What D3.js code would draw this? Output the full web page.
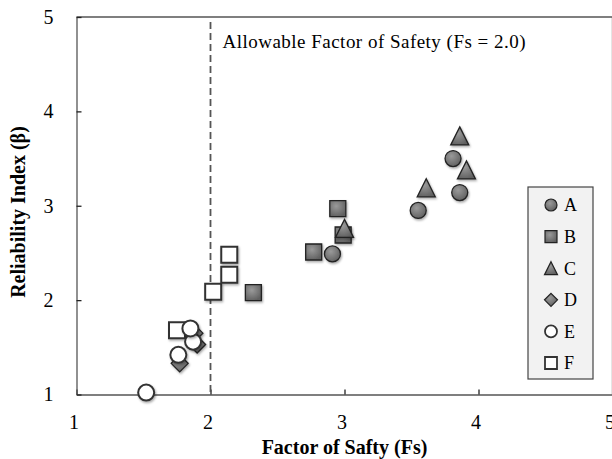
<!DOCTYPE html>
<html>
<head>
<meta charset="utf-8">
<script src="https://cdn.jsdelivr.net/npm/d3@7"></script>
<style>
  body { margin: 0; background: #fff; }
  svg text { font-family: "Liberation Serif", "Times New Roman", serif; fill: #000; }
</style>
</head>
<body>
<div id="chart"></div>
<script>
var seriesNames = ["A", "B", "C", "D", "E", "F"];
var seriesShapes = ["circle", "square", "triangle", "diamond", "circle", "square"];
var seriesFilled = [true, true, true, true, false, false];

// Factor of safety (x) and reliability index (y) per series
var fsA = [2.91, 3.55, 3.81, 3.86];
var betaA = [2.49, 2.95, 3.50, 3.14];
var fsB = [2.77, 2.95, 2.99, 2.32];
var betaB = [2.51, 2.97, 2.69, 2.08];
var fsC = [3.86, 3.91, 3.61, 3.00];
var betaC = [3.74, 3.38, 3.19, 2.76];
var fsD = [1.90, 1.77, 1.88];
var betaD = [1.53, 1.33, 1.65];
var fsE = [1.52, 1.76, 1.87, 1.85];
var betaE = [1.02, 1.42, 1.56, 1.70];
var fsF = [1.75, 2.02, 2.14, 2.14];
var betaF = [1.68, 2.09, 2.27, 2.48];

var xTicks = [1, 2, 3, 4, 5];
var yTicks = [1, 2, 3, 4, 5];
var allowableFs = 2.0;

var fsAll = [fsA, fsB, fsC, fsD, fsE, fsF];
var betaAll = [betaA, betaB, betaC, betaD, betaE, betaF];

var width = 612, height = 459;
var margin = {top: 17, left: 76.5, bottom: 64.5, right: -0.5};

var svg = d3.select("#chart").append("svg")
    .attr("width", width)
    .attr("height", height);

var defs = svg.append("defs");
var grad = defs.append("radialGradient").attr("id", "gfill")
    .attr("cx", "40%").attr("cy", "35%").attr("r", "70%");
grad.append("stop").attr("offset", "0%").attr("stop-color", "#9a9a9a");
grad.append("stop").attr("offset", "100%").attr("stop-color", "#5e5e5e");

var shadow = defs.append("filter").attr("id", "shadow")
    .attr("x", "-50%").attr("y", "-50%").attr("width", "200%").attr("height", "200%");
shadow.append("feDropShadow").attr("dx", 1).attr("dy", 1.5)
    .attr("stdDeviation", 1.2).attr("flood-color", "#000").attr("flood-opacity", 0.35);

var x = d3.scaleLinear().domain([1, 5]).range([margin.left, width - margin.right]);
var y = d3.scaleLinear().domain([1, 5]).range([height - margin.bottom, margin.top]);

var axisColor = "#555";

// frame (top and right border)
svg.append("line")
    .attr("x1", x(1)).attr("x2", x(5))
    .attr("y1", y(5)).attr("y2", y(5))
    .attr("stroke", axisColor).attr("stroke-width", 1.3);
svg.append("line")
    .attr("x1", x(5)).attr("x2", x(5))
    .attr("y1", y(5)).attr("y2", y(1))
    .attr("stroke", axisColor).attr("stroke-width", 1.3);

var xAxis = svg.append("g")
    .attr("transform", "translate(0," + y(1) + ")")
    .call(d3.axisBottom(x).tickValues(xTicks).tickFormat(d3.format("d"))
        .tickSizeInner(-5).tickSizeOuter(0).tickPadding(20));
var yAxis = svg.append("g")
    .attr("transform", "translate(" + x(1) + ",0)")
    .call(d3.axisLeft(y).tickValues(yTicks).tickFormat(d3.format("d"))
        .tickSizeInner(-5).tickSizeOuter(0).tickPadding(23));

[xAxis, yAxis].forEach(function(ax) {
    ax.select(".domain").attr("stroke", axisColor).attr("stroke-width", 1.3);
    ax.selectAll(".tick line").attr("stroke", "#222").attr("stroke-width", 1.3);
    ax.selectAll(".tick text")
        .attr("font-family", "Liberation Serif, serif")
        .attr("font-size", 20).attr("fill", "#000");
});
xAxis.selectAll(".tick text").attr("dx", -3);
yAxis.selectAll(".tick text").attr("dy", "0.32em");

// allowable factor of safety line
svg.append("line")
    .attr("x1", x(allowableFs)).attr("x2", x(allowableFs))
    .attr("y1", y(5) + 5).attr("y2", y(1))
    .attr("stroke", "#555").attr("stroke-width", 1.8)
    .attr("stroke-dasharray", "7,4");

svg.append("text")
    .attr("x", x(allowableFs) + 12).attr("y", 48)
    .attr("font-size", 19)
    .attr("textLength", 303)
    .text("Allowable  Factor of Safety (Fs = 2.0)");

function markerPath(shape, s) {
    var h = s / 2;
    if (shape === "square") return "M" + (-h) + "," + (-h) + "h" + s + "v" + s + "h" + (-s) + "Z";
    if (shape === "triangle") return "M0," + (-h) + "L" + h + "," + h + "L" + (-h) + "," + h + "Z";
    if (shape === "diamond") return "M0," + (-h) + "L" + h + ",0L0," + h + "L" + (-h) + ",0Z";
    return "M" + (-h) + ",0A" + h + "," + h + " 0 1,0 " + h + ",0A" + h + "," + h + " 0 1,0 " + (-h) + ",0Z";
}

function markerSize(shape, big) {
    if (shape === "triangle") return big ? 18 : 13;
    if (shape === "diamond") return big ? 17 : 13;
    return big ? 16 : 12;
}

// draw order: filled series first, then F, then E on top
var order = [0, 1, 2, 3, 5, 4];
order.forEach(function(si) {
    var pts = fsAll[si].map(function(v, i) { return [v, betaAll[si][i]]; });
    svg.append("g").attr("class", "series-" + seriesNames[si])
        .selectAll("path").data(pts).enter().append("path")
        .attr("transform", function(d) { return "translate(" + x(d[0]) + "," + y(d[1]) + ")"; })
        .attr("d", markerPath(seriesShapes[si], markerSize(seriesShapes[si], true)))
        .attr("fill", seriesFilled[si] ? "url(#gfill)" : "#fff")
        .attr("stroke", seriesFilled[si] ? "#222" : "#333")
        .attr("stroke-width", seriesFilled[si] ? 1.3 : 2)
        .attr("filter", "url(#shadow)");
});

// legend
var legend = svg.append("g").attr("transform", "translate(528,187)");
legend.append("rect")
    .attr("width", 65).attr("height", 192)
    .attr("fill", "#f2f2f2").attr("stroke", "#444").attr("stroke-width", 1.2);

var ly = d3.scalePoint().domain(seriesNames).range([18, 176]);
var items = legend.selectAll(".item").data(seriesNames).enter().append("g")
    .attr("transform", function(d) { return "translate(0," + ly(d) + ")"; });
items.append("path")
    .attr("transform", "translate(23,0)")
    .attr("d", function(d, i) { return markerPath(seriesShapes[i], markerSize(seriesShapes[i], false)); })
    .attr("fill", function(d, i) { return seriesFilled[i] ? "url(#gfill)" : "#fff"; })
    .attr("stroke", function(d, i) { return seriesFilled[i] ? "#222" : "#333"; })
    .attr("stroke-width", function(d, i) { return seriesFilled[i] ? 1.2 : 1.8; });
items.append("text")
    .attr("x", 36).attr("dy", "0.35em")
    .attr("font-size", 18)
    .text(function(d) { return d; });

// axis titles
svg.append("text")
    .attr("x", (x(1) + x(5)) / 2).attr("y", 454)
    .attr("text-anchor", "middle")
    .attr("font-size", 20).attr("font-weight", "bold")
    .text("Factor of Safty (Fs)");

svg.append("text")
    .attr("transform", "translate(25,212) rotate(-90)")
    .attr("text-anchor", "middle")
    .attr("font-size", 20).attr("font-weight", "bold")
    .text("Reliability  Index (β)");
</script>
</body>
</html>
